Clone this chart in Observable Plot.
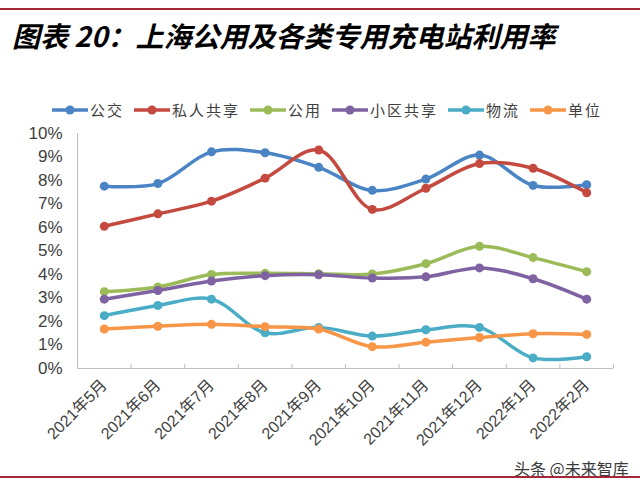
<!DOCTYPE html>
<html><head><meta charset="utf-8">
<script src="https://cdn.jsdelivr.net/npm/d3@7"></script>
<script src="https://cdn.jsdelivr.net/npm/@observablehq/plot@0.6"></script>
<style>
body{margin:0;background:#fff;}
#wrap{position:relative;width:640px;height:491px;overflow:hidden;background:#fff;font-family:"Noto Sans CJK SC",sans-serif;}
.rule{position:absolute;left:0;width:640px;height:2px;background:#a3283c;}
#title{position:absolute;left:12px;top:16px;font-size:28px;font-weight:bold;font-style:italic;color:#000;white-space:nowrap;line-height:38px;}
#legend{position:absolute;left:52px;top:100px;display:flex;gap:10px;align-items:center;font-size:15px;color:#404040;letter-spacing:2px;line-height:20px;}
#legend .item{display:flex;align-items:center;gap:2px;}
#chart{position:absolute;left:0;top:120px;}
#wm{position:absolute;left:514px;top:456px;font-size:16px;color:#3a3a3a;text-shadow:0 0 2px #fff,0 0 2px #fff;white-space:nowrap;}
</style></head>
<body>
<div id="wrap">
  <div class="rule" style="top:8px"></div>
  <div id="title">图表 20：上海公用及各类专用充电站利用率</div>
  <div id="legend"></div>
  <div id="chart"></div>
  <div id="wm">头条 @未来智库</div>
  <div class="rule" style="top:476px"></div>
</div>
<script>
const months = ["2021年5月","2021年6月","2021年7月","2021年8月","2021年9月","2021年10月","2021年11月","2021年12月","2022年1月","2022年2月"];
const seriesNames = ["公交","私人共享","公用","小区共享","物流","单位"];
const seriesColors = ["#4a84c4","#c44a40","#9bbb59","#7f62a1","#4bacc6","#f79646"];
const busValues      = [7.76, 7.87, 9.22, 9.18, 8.56, 7.58, 8.06, 9.08, 7.79, 7.82];
const privateValues  = [6.05, 6.58, 7.12, 8.10, 9.30, 6.77, 7.67, 8.72, 8.52, 7.48];
const publicValues   = [3.27, 3.47, 4.00, 4.05, 4.03, 4.02, 4.46, 5.20, 4.72, 4.12];
const communityValues= [2.95, 3.32, 3.72, 3.95, 3.99, 3.85, 3.90, 4.28, 3.82, 2.95];
const logisticsValues= [2.25, 2.68, 2.95, 1.52, 1.75, 1.38, 1.65, 1.75, 0.45, 0.50];
const unitValues     = [1.68, 1.80, 1.88, 1.78, 1.68, 0.93, 1.12, 1.32, 1.48, 1.45];
const yTicks = [0,1,2,3,4,5,6,7,8,9,10];

const allValues = [busValues, privateValues, publicValues, communityValues, logisticsValues, unitValues];
const rows = [];
seriesNames.forEach((s, k) => allValues[k].forEach((v, i) => rows.push({s, i, v})));
const boundaries = d3.range(months.length + 1).map(i => i - 0.5);

// legend
const legend = document.getElementById("legend");
seriesNames.forEach((s, k) => {
  const item = document.createElement("div");
  item.className = "item";
  item.innerHTML = `<svg width="36" height="14"><line x1="0" x2="36" y1="7" y2="7" stroke="${seriesColors[k]}" stroke-width="3.5"/><circle cx="18" cy="7" r="4.5" fill="${seriesColors[k]}"/></svg><span>${s}</span>`;
  legend.appendChild(item);
});

const seriesMarks = seriesNames.flatMap((s, k) => {
  const d = rows.filter(r => r.s === s);
  return [
    Plot.line(d, {x: "i", y: "v", stroke: seriesColors[k], strokeWidth: 3.5, curve: "catmull-rom"}),
    Plot.dot(d, {x: "i", y: "v", fill: seriesColors[k], r: 4.5})
  ];
});

const chart = Plot.plot({
  width: 640, height: 371,
  marginTop: 13, marginBottom: 123, marginLeft: 77, marginRight: 27,
  x: {type: "linear", domain: [-0.5, months.length - 0.5], label: null},
  y: {domain: [0, 10], label: null},
  style: {fontFamily: "'Liberation Sans', Arial, 'Noto Sans CJK SC', sans-serif", background: "transparent", overflow: "visible"},
  marks: [
    Plot.ruleY([0], {stroke: "#bfbfbf", strokeWidth: 1.2}),
    Plot.ruleX([boundaries[0]], {stroke: "#bfbfbf", strokeWidth: 1.2}),
    Plot.ruleX(boundaries, {y1: 0, y2: 0.18, stroke: "#bfbfbf"}),
    Plot.axisY({ticks: yTicks, tickFormat: d => d + "%", tickSize: 0, tickPadding: 15, fontSize: 17, fill: "#404040", label: null}),
    Plot.axisX({ticks: d3.range(months.length), tickFormat: i => months[i], tickSize: 0, tickRotate: -45, tickPadding: 14, fontSize: 16, fill: "#404040", label: null}),
    ...seriesMarks
  ]
});
document.getElementById("chart").appendChild(chart);
</script>
</body></html>
